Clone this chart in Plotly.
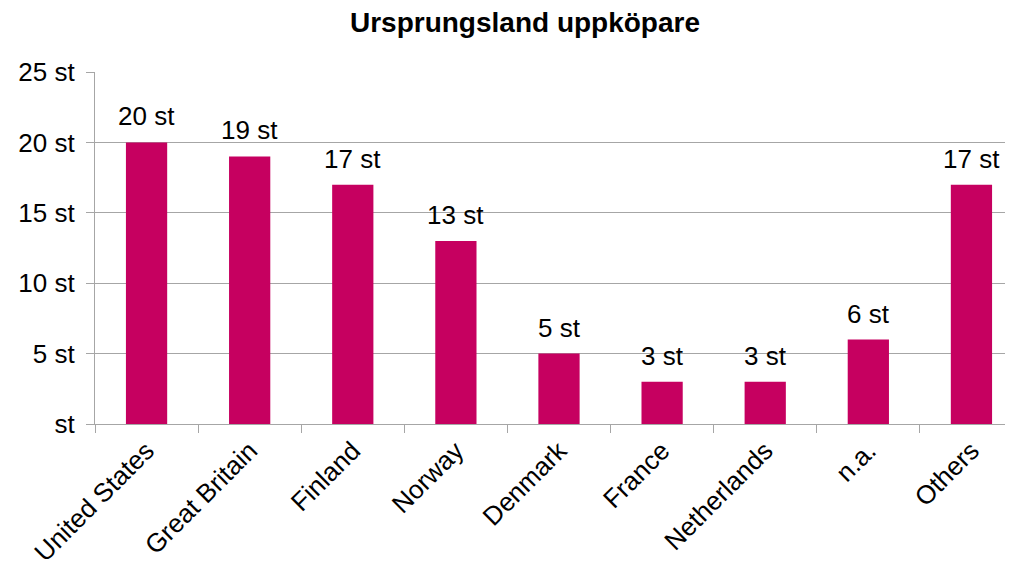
import plotly.graph_objects as go

categories = ["United States", "Great Britain", "Finland", "Norway", "Denmark",
              "France", "Netherlands", "n.a.", "Others"]
values = [20, 19, 17, 13, 5, 3, 3, 6, 17]
tick_values = [0, 5, 10, 15, 20, 25]
tick_labels = ["st", "5 st", "10 st", "15 st", "20 st", "25 st"]

font_family = "Liberation Sans, Arial, sans-serif"
W, H = 1030, 567
OFF = 8  # browser default body margin
PLOT_L, PLOT_R, PLOT_T, PLOT_B = 95, 1023, 72, 424  # screen coords of plot area

fig = go.Figure(go.Bar(
    x=categories,
    y=values,
    marker=dict(color="#C60060", line=dict(width=0)),
    hoverinfo="x+y",
))

for c, v in zip(categories, values):
    fig.add_annotation(x=c, y=v, text=f"{v} st", showarrow=False,
                       yanchor="bottom", yshift=9,
                       font=dict(size=26, color="#000000", family=font_family))

fig.update_layout(
    width=W, height=H,
    margin=dict(l=PLOT_L - OFF, r=W - (PLOT_R - OFF), t=PLOT_T - OFF, b=H - (PLOT_B - OFF)),
    paper_bgcolor="white", plot_bgcolor="white",
    bargap=0.6,
    showlegend=False,
    title=dict(text="<b>Ursprungsland uppköpare</b>", x=(525 - OFF) / W, xanchor="center",
               y=1 - (22 - OFF) / H, yanchor="middle",
               font=dict(size=28, color="#000000", family=font_family)),
    font=dict(family=font_family, color="#000000"),
)

fig.update_yaxes(
    range=[0, 25], tickvals=tick_values, ticktext=tick_labels,
    showgrid=True, gridcolor="#A6A6A6", gridwidth=1.3,
    showline=True, linecolor="#A6A6A6", linewidth=1.3,
    ticks="outside", ticklen=8, tickcolor="#A6A6A6", tickwidth=1.3,
    ticklabelstandoff=6,
    tickfont=dict(size=26, color="#000000", family=font_family),
    zeroline=False, automargin=False,
)
fig.update_xaxes(
    tickangle=-45, showline=True, linecolor="#A6A6A6", linewidth=1.3,
    ticks="outside", ticklen=8, tickcolor="#A6A6A6", tickwidth=1.3,
    tickson="boundaries",
    tickfont=dict(size=26, color="#000000", family=font_family),
    automargin=False,
)

fig.write_html("out.html")
